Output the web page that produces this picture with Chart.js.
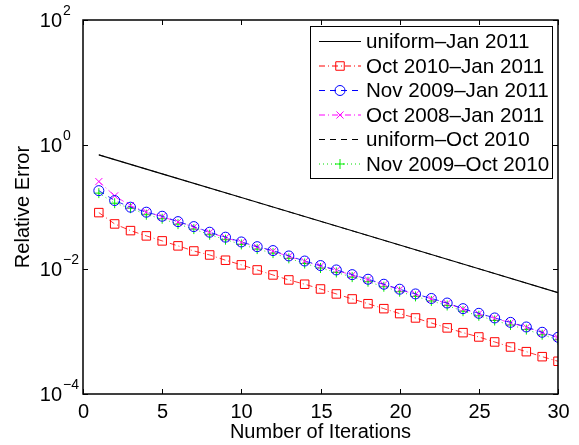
<!DOCTYPE html>
<html>
<head>
<meta charset="utf-8">
<script src="https://cdn.jsdelivr.net/npm/chart.js@4/dist/chart.umd.min.js"></script>
<style>
    html, body { margin: 0; padding: 0; background: #fff; }
    #wrap { width: 579px; height: 445px; }
</style>
</head>
<body>
<div id="wrap"><canvas id="chart" width="579" height="445"></canvas></div>
<script>
// Data
const iterations = [1, 2, 3, 4, 5, 6, 7, 8, 9, 10, 11, 12, 13, 14, 15,
                    16, 17, 18, 19, 20, 21, 22, 23, 24, 25, 26, 27, 28, 29, 30];
const uniformIterations = [1, 5, 10, 15, 20, 25, 30];

const uniformJan2011 = [0.686, 0.340, 0.1416, 0.0589, 0.0245, 0.0102, 0.00423];
const uniformOct2010 = [0.686, 0.340, 0.1416, 0.0589, 0.0245, 0.0102, 0.00423];

const oct2010Jan2011 = [0.0813, 0.0535, 0.0418, 0.0344, 0.0286, 0.0238, 0.0197, 0.0170, 0.0140, 0.0118,
                        0.00978, 0.00813, 0.00676, 0.00577, 0.00484, 0.00403, 0.00335, 0.00281, 0.00234, 0.00195,
                        0.00166, 0.00138, 0.00115, 0.000964, 0.000822, 0.000684, 0.000568, 0.000478, 0.000397, 0.000335];

const nov2009Jan2011 = [0.183, 0.127, 0.0993, 0.0826, 0.0711, 0.0583, 0.0485, 0.0394, 0.0328, 0.0275,
                        0.0231, 0.0200, 0.0164, 0.0136, 0.0115, 0.00978, 0.00822, 0.00694, 0.00577, 0.00480,
                        0.00403, 0.00341, 0.00288, 0.00234, 0.00197, 0.00166, 0.00141, 0.00119, 0.000978, 0.000813];

const oct2008Jan2011 = [0.256, 0.151, 0.105, 0.0834, 0.0700, 0.0575, 0.0478, 0.0390, 0.0322, 0.0270,
                        0.0228, 0.0196, 0.0161, 0.0134, 0.0113, 0.00962, 0.00810, 0.00684, 0.00568, 0.00473,
                        0.00397, 0.00336, 0.00284, 0.00231, 0.00194, 0.00164, 0.00139, 0.00117, 0.000963, 0.000802];

const nov2009Oct2010 = [0.167, 0.115, 0.0957, 0.0752, 0.0648, 0.0531, 0.0442, 0.0359, 0.0299, 0.0251,
                        0.0211, 0.0182, 0.0150, 0.0124, 0.0105, 0.00892, 0.00750, 0.00633, 0.00526, 0.00438,
                        0.00368, 0.00311, 0.00263, 0.00213, 0.00180, 0.00151, 0.00128, 0.00108, 0.000892, 0.000741];

const xTicks = [0, 5, 10, 15, 20, 25, 30];
const yTickExponents = [2, 0, -2, -4];

const FONT = '"Liberation Sans", Arial, Helvetica, sans-serif';

/**
 * Pair x values with y values for a linear x scale
 */
function toPoints(xs, ys) {
    return xs.map((x, i) => ({ x: x, y: ys[i] }));
}

function series(label, xs, ys, style) {
    return Object.assign({
        label: label,
        data: toPoints(xs, ys),
        borderWidth: 0.8,
        fill: false,
        tension: 0,
        pointRadius: 0,
        pointBorderWidth: 1,
        pointBackgroundColor: 'rgba(0,0,0,0)'
    }, style);
}

const datasets = [
    series('uniform\u2013Jan 2011', uniformIterations, uniformJan2011, {
        borderColor: '#000000', borderWidth: 1.1
    }),
    series('Oct 2010\u2013Jan 2011', iterations, oct2010Jan2011, {
        borderColor: '#ff0000', borderDash: [6, 3, 1, 3],
        pointStyle: 'rect', pointRadius: 6, pointBorderColor: '#ff0000'
    }),
    series('Nov 2009\u2013Jan 2011', iterations, nov2009Jan2011, {
        borderColor: '#0000ff', borderDash: [6, 5],
        pointStyle: 'circle', pointRadius: 5, pointBorderColor: '#0000ff'
    }),
    series('Oct 2008\u2013Jan 2011', iterations, oct2008Jan2011, {
        borderColor: '#ff00ff', borderDash: [6, 3, 1, 3],
        pointStyle: 'crossRot', pointRadius: 5, pointBorderColor: '#ff00ff'
    }),
    series('uniform\u2013Oct 2010', uniformIterations, uniformOct2010, {
        borderColor: '#000000', borderDash: [6, 5]
    }),
    series('Nov 2009\u2013Oct 2010', iterations, nov2009Oct2010, {
        borderColor: '#00dd00', borderDash: [1, 3],
        pointStyle: 'cross', pointRadius: 5, pointBorderColor: '#00ee00'
    })
];

// MATLAB-style axes: boxed frame, inward ticks, 10^n labels, legend inside
const matlabAxes = {
    id: 'matlabAxes',
    afterDatasetsDraw(chart) {
        const ctx = chart.ctx;
        const area = chart.chartArea;
        const xs = chart.scales.x;
        const ys = chart.scales.y;
        const tickLen = 5;

        ctx.save();
        ctx.strokeStyle = '#000';
        ctx.fillStyle = '#000';
        ctx.lineWidth = 1.5;
        ctx.strokeRect(area.left, area.top, area.right - area.left, area.bottom - area.top);

        // x ticks and labels
        ctx.lineWidth = 1;
        ctx.font = '20px ' + FONT;
        ctx.textAlign = 'center';
        ctx.textBaseline = 'middle';
        xTicks.forEach(v => {
            const px = Math.round(xs.getPixelForValue(v)) + 0.5;
            ctx.beginPath();
            ctx.moveTo(px, area.bottom);
            ctx.lineTo(px, area.bottom - tickLen);
            ctx.moveTo(px, area.top);
            ctx.lineTo(px, area.top + tickLen);
            ctx.stroke();
            ctx.fillText(String(v), px, area.bottom + 18);
        });

        // y ticks and labels
        yTickExponents.forEach(e => {
            const py = Math.round(ys.getPixelForValue(Math.pow(10, e))) + 0.5;
            ctx.beginPath();
            ctx.moveTo(area.left, py);
            ctx.lineTo(area.left + tickLen, py);
            ctx.moveTo(area.right, py);
            ctx.lineTo(area.right - tickLen, py);
            ctx.stroke();
            ctx.font = '20px ' + FONT;
            ctx.textAlign = 'right';
            ctx.fillText('10', 62, py + 1);
            ctx.font = '14px ' + FONT;
            ctx.textAlign = 'left';
            ctx.fillText(e < 0 ? '\u2212' + Math.abs(e) : String(e), 63, py - 9);
        });

        // axis titles
        ctx.font = '20px ' + FONT;
        ctx.textAlign = 'center';
        ctx.fillText('Number of Iterations', (area.left + area.right) / 2, 432);
        ctx.save();
        ctx.translate(23, (area.top + area.bottom) / 2);
        ctx.rotate(-Math.PI / 2);
        ctx.fillText('Relative Error', 0, 0);
        ctx.restore();

        // legend box
        const box = { left: 310.5, top: 26.5, width: 242, height: 152 };
        ctx.fillStyle = '#fff';
        ctx.fillRect(box.left, box.top, box.width, box.height);
        ctx.strokeStyle = '#000';
        ctx.lineWidth = 1;
        ctx.strokeRect(box.left, box.top, box.width, box.height);

        chart.data.datasets.forEach((ds, i) => {
            const y = 41.5 + i * 24.5;
            ctx.save();
            ctx.strokeStyle = ds.borderColor;
            ctx.lineWidth = 1;
            ctx.setLineDash(ds.borderDash || []);
            ctx.beginPath();
            ctx.moveTo(319, y);
            ctx.lineTo(361, y);
            ctx.stroke();
            ctx.setLineDash([]);
            if (ds.pointRadius > 0) {
                ctx.strokeStyle = ds.pointBorderColor;
                ctx.fillStyle = 'rgba(0,0,0,0)';
                Chart.helpers.drawPoint(ctx, {
                    pointStyle: ds.pointStyle,
                    radius: ds.pointRadius,
                    rotation: 0,
                    borderWidth: 1
                }, 340, y);
            }
            ctx.restore();
            ctx.fillStyle = '#000';
            ctx.font = '20.6px ' + FONT;
            ctx.textAlign = 'left';
            ctx.textBaseline = 'middle';
            ctx.fillText(ds.label, 366, y + 1);
        });

        ctx.restore();
    }
};

new Chart(document.getElementById('chart'), {
    type: 'line',
    data: { datasets: datasets },
    options: {
        responsive: false,
        animation: false,
        layout: { padding: { left: 83, top: 20, right: 21, bottom: 51 } },
        scales: {
            x: { type: 'linear', min: 0, max: 30, display: false },
            y: { type: 'logarithmic', min: 1e-4, max: 1e2, display: false }
        },
        plugins: {
            legend: { display: false },
            tooltip: { enabled: false }
        }
    },
    plugins: [matlabAxes]
});
</script>
</body>
</html>
